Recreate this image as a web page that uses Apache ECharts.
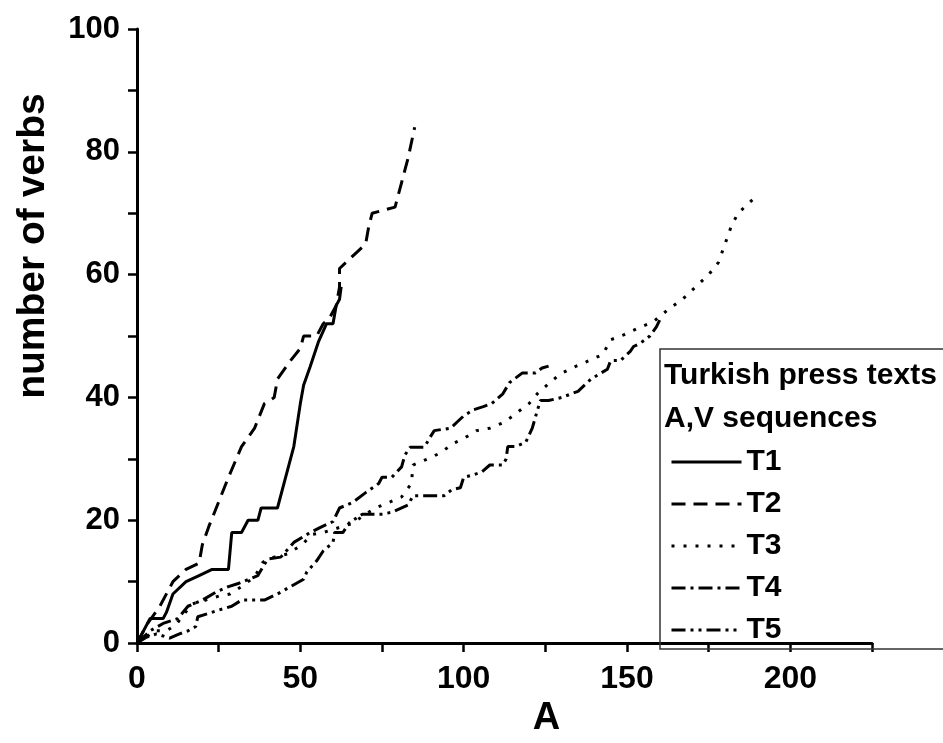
<!DOCTYPE html>
<html>
<head>
<meta charset="utf-8">
<script src="https://cdn.jsdelivr.net/npm/echarts@6/dist/echarts.min.js"></script>
<style>
  html, body { margin: 0; padding: 0; background: #fff; }
  #chart { width: 943px; height: 743px; }
</style>
</head>
<body>
<div id="chart"></div>
<script>
// Cumulative number of verbs against A for five Turkish press texts, [A, verbs]
const t1 = [[0,0],[4,4],[8,4],[9,5],[11,8],[15,10],[19,11],[23,12],[28,12],[29,18],[32,18],[34,20],[37,20],[38,22],[43,22],[45,26],[48,32],[50,39],[51,42],[53,45],[55.5,49],[58,52],[60,52],[61,55],[62,56],[62.5,58]];
const t2 = [[0,0],[3,3],[7,6],[10,9],[11,10],[15,12],[19,13],[20,16],[22,19],[25,23],[28,27],[32,32],[36,35],[39,39],[42,40],[43,43],[47,46],[50,48],[51,50],[55,50],[57,52],[59,53],[61,55],[62,58],[62,61],[64,62],[68,64],[70,65],[71,68],[72,70],[79,71],[81,75],[83,79],[85,84]];
const t3 = [[0,0],[3,1],[5,2],[9,2],[12,3],[14,4.5],[17,6.4],[21,7],[25.4,7.7],[28.5,8],[32,9.2],[36,10.8],[38.6,13.2],[42,14],[46,14.5],[50.5,16],[53.6,17.7],[57,18],[60,18.5],[66,19.5],[70,21],[73,22],[77.5,23],[81,23.8],[84,26],[84.5,29],[89,30],[93,31],[96.7,32.5],[100,33.3],[104,34.6],[108,35],[112.6,36],[116,37.4],[120,39],[122.7,40.7],[126.4,42.4],[129.5,43.8],[134,45],[137.5,45.8],[142.6,47],[145,49.4],[149,50.2],[153,51.2],[158,52.3],[163,54.5],[167,56],[171,58],[175,60],[178,62],[180,65],[182,68],[184,70],[187,71.5],[189,72.5]];
const t4 = [[0,0],[4,2],[8,3.2],[12.5,4],[15.6,6],[20,7],[24.5,8.4],[28,9.2],[31,9.7],[37,11],[40,13.7],[44,14],[48,16.4],[53,18],[56,18.8],[60,19.8],[62,22],[66,22.9],[70,24.5],[74,26],[75,27],[78,27],[81,28.7],[82,30.6],[83.6,31.9],[88,31.9],[89.7,33.5],[91,34.6],[96,35],[98,36],[100,37],[103,38],[106,38.5],[108.6,39],[112,40.6],[114,42.4],[118,44],[122,44],[124,44.8],[126,45.1]];
const t5 = [[0,0],[3,1],[6,1.5],[10,0.8],[13,1.5],[15.6,2],[18,2.7],[18.6,4.3],[21.7,4.8],[24.5,5.3],[29,6],[32,7],[39,7],[43,8],[47,9.2],[51,10.4],[52,11.6],[55,13.4],[57,15],[60,16.4],[60.5,18],[63,18],[65,19.6],[69,21],[75,21],[78,21.3],[83,22.5],[84.5,24],[94,24],[96.4,25],[99,25.3],[100,27],[103,27.4],[105.6,27.9],[108,29],[112,29],[113,30],[113.5,32],[116,32],[119,32.7],[121,35],[122.5,37.8],[123.5,39.5],[126,39.5],[130,40],[135,41],[139,43],[144,44.6],[145,46],[148,46],[151,47.5],[152,48.3],[154,48.8],[157,50],[159,51.5],[160,52.6]];

const seriesNames = ['T1', 'T2', 'T3', 'T4', 'T5'];
const seriesData = [t1, t2, t3, t4, t5];
// solid, dash, dot, dash-dot, dash-dot-dot
const dashStyles = ['solid', [14, 8], [3, 9], [14, 5, 3, 5], [14, 5, 3, 5, 3, 5]];

const xTicks = [0, 50, 100, 150, 200];
const yTicks = [0, 20, 40, 60, 80, 100];
const legendTitle = ['Turkish press texts', 'A,V sequences'];

const FONT = '"Liberation Sans", Arial, Helvetica, sans-serif';

const chart = echarts.init(document.getElementById('chart'), null, { renderer: 'canvas' });

chart.setOption({
  animation: false,
  backgroundColor: '#fff',
  grid: { left: 137, right: 71, top: 29, bottom: 93, containLabel: false },
  title: {
    text: legendTitle.join('\n'),
    left: 659,
    top: 349,
    textStyle: { fontFamily: FONT, fontSize: 30, fontWeight: 'bold', color: '#000', lineHeight: 43 }
  },
  legend: {
    orient: 'vertical',
    left: 665,
    top: 442,
    itemWidth: 70,
    itemHeight: 14,
    itemGap: 12,
    data: seriesNames,
    lineStyle: { width: 3 },
    itemStyle: { color: 'rgba(0,0,0,0)', borderWidth: 0 },
    textStyle: { fontFamily: FONT, fontSize: 30, fontWeight: 'bold', color: '#000', lineHeight: 30 }
  },
  graphic: [{
    type: 'rect',
    z: 10,
    shape: { x: 660, y: 349, width: 340, height: 300 },
    style: { fill: 'none', stroke: '#333', lineWidth: 1.5 }
  }],
  xAxis: {
    type: 'value',
    min: 0,
    max: 225,
    interval: 25,
    name: 'A',
    nameLocation: 'middle',
    nameGap: 48,
    nameTextStyle: { fontFamily: FONT, fontSize: 38, fontWeight: 'bold', color: '#000', padding: [0, 0, 0, 84] },
    axisLine: { onZero: false, lineStyle: { color: '#000', width: 3 } },
    axisTick: { inside: false, length: 9, lineStyle: { color: '#000', width: 2.5 } },
    splitLine: { show: false },
    axisLabel: {
      margin: 20,
      fontFamily: FONT, fontSize: 32, fontWeight: 'bold', color: '#000',
      formatter: v => (xTicks.indexOf(v) >= 0 ? String(v) : '')
    }
  },
  yAxis: {
    type: 'value',
    min: 0,
    max: 100,
    interval: 10,
    name: 'number of verbs',
    nameLocation: 'middle',
    nameGap: 84,
    nameTextStyle: { fontFamily: FONT, fontSize: 39, fontWeight: 'bold', color: '#000', padding: [0, 0, 0, 180] },
    axisLine: { onZero: false, lineStyle: { color: '#000', width: 3 } },
    axisTick: { inside: false, length: 9, lineStyle: { color: '#000', width: 2.5 } },
    splitLine: { show: false },
    axisLabel: {
      margin: 17,
      fontFamily: FONT, fontSize: 31, fontWeight: 'bold', color: '#000',
      formatter: v => (yTicks.indexOf(v) >= 0 ? String(v) : '')
    }
  },
  series: seriesNames.map((name, i) => ({
    name: name,
    type: 'line',
    data: seriesData[i],
    symbol: 'none',
    showSymbol: false,
    color: '#000',
    lineStyle: { color: '#000', width: 3, type: dashStyles[i] },
    z: 3
  }))
});
</script>
</body>
</html>
